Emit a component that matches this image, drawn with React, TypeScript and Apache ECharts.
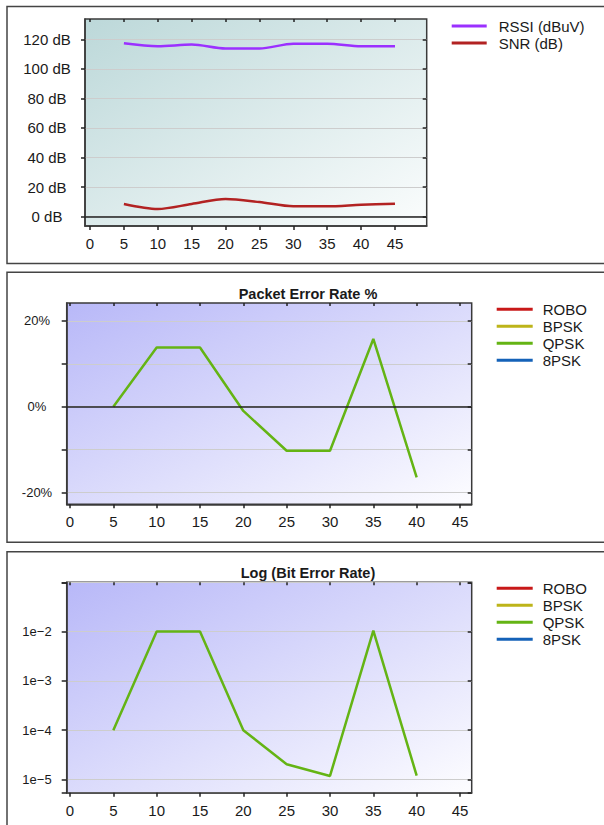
import React, { useEffect, useRef } from "react";
import * as echarts from "echarts";

// ---- data ----
const distance = [5, 10, 15, 20, 25, 30, 35, 40, 45];
const rssi = [117.3, 115.3, 116.4, 113.7, 113.7, 117, 117, 115.3, 115.3];
const snr = [8.6, 5.2, 8.6, 12, 9.9, 7, 7, 8.1, 8.8];

const errDistance = [5, 10, 15, 20, 25, 30, 35, 40];
const perRobo: number[] = [];
const perBpsk: number[] = [];
const perQpsk = [0, 13.8, 13.8, -1, -10.3, -10.3, 15.8, -16.5];
const per8psk: number[] = [];
const berRobo: number[] = [];
const berBpsk: number[] = [];
const berQpsk = [1e-4, 1e-2, 1e-2, 1e-4, 2.04e-5, 1.18e-5, 1.05e-2, 1.2e-5];
const ber8psk: number[] = [];

const xTicks = [0, 5, 10, 15, 20, 25, 30, 35, 40, 45];
const dbTicks = [0, 20, 40, 60, 80, 100, 120];
const perTicks = [-20, -10, 0, 10, 20];
const perLabels = [-20, 0, 20];

const modNames = ["ROBO", "BPSK", "QPSK", "8PSK"];
const modColors = ["#c81818", "#bdb41a", "#64b414", "#1462b8"];

const FONT = 'Arial, "Liberation Sans", sans-serif';
const TEXT = "#1a1a1a";
const AXIS = "#3a3a3a";

const zip = (xs: number[], ys: number[]) => ys.map((y, i) => [xs[i], y]);

function xBottom(gridIndex: number, min: number, max: number) {
  return {
    type: "value",
    gridIndex,
    position: "bottom",
    min,
    max,
    axisLine: { show: true, onZero: false, lineStyle: { color: AXIS, width: 1.5 } },
    axisTick: { show: true, length: 4, customValues: xTicks, lineStyle: { color: "#222", width: 1.5 } },
    axisLabel: { customValues: xTicks, margin: 10, fontSize: 15, color: TEXT, fontFamily: FONT },
    splitLine: { show: false },
  };
}
function xTop(gridIndex: number, min: number, max: number) {
  return {
    type: "value",
    gridIndex,
    position: "top",
    min,
    max,
    axisLine: { show: false, onZero: false },
    axisTick: { show: true, inside: true, length: 3, customValues: xTicks, lineStyle: { color: "#222", width: 1.5 } },
    axisLabel: { show: false },
    splitLine: { show: false },
  };
}

const bgTeal = {
  type: "linear", x: 0, y: 0, x2: 1, y2: 1,
  colorStops: [{ offset: 0, color: "#bcd8d9" }, { offset: 1, color: "#fbfdfd" }],
};
const bgBlue = {
  type: "linear", x: 0, y: 0, x2: 1, y2: 1,
  colorStops: [{ offset: 0, color: "#b8b8f8" }, { offset: 1, color: "#fdfdff" }],
};

const zeroLine = {
  silent: true,
  symbol: ["none", "none"],
  label: { show: false },
  lineStyle: { color: "#222", width: 1.5, type: "solid" },
  data: [{ yAxis: 0 }],
};

function legend(names: string[], left: number, top: number, itemWidth: number, pad: number) {
  return {
    data: names,
    orient: "vertical",
    left,
    top,
    padding: 0,
    icon: "rect",
    itemWidth,
    itemHeight: 3,
    itemGap: 0,
    selectedMode: false,
    textStyle: { fontSize: 15, lineHeight: 17, color: TEXT, fontFamily: FONT, padding: [0, 0, 0, pad] },
  };
}

export default function App() {
  const ref = useRef<HTMLDivElement>(null);
  useEffect(() => {
    if (!ref.current) return;
    const chart = echarts.init(ref.current, undefined, { renderer: "svg" });
    const perData = [perRobo, perBpsk, perQpsk, per8psk];
    const berData = [berRobo, berBpsk, berQpsk, ber8psk];
    const option: any = {
      animation: false,
      textStyle: { fontFamily: FONT },
      title: [
        {
          text: "Packet Error Rate %", left: 308, top: 286, textAlign: "center", padding: 0,
          textStyle: { fontSize: 14.5, fontWeight: "bold", color: TEXT, fontFamily: FONT },
        },
        {
          text: "Log (Bit Error Rate)", left: 308, top: 565, textAlign: "center", padding: 0,
          textStyle: { fontSize: 14.5, fontWeight: "bold", color: TEXT, fontFamily: FONT },
        },
      ],
      graphic: [
        { type: "rect", silent: true, shape: { x: 7, y: 6.5, width: 640, height: 257 }, style: { fill: "none", stroke: "#444", lineWidth: 1.5 } },
        { type: "rect", silent: true, shape: { x: 7, y: 272.3, width: 640, height: 270 }, style: { fill: "none", stroke: "#444", lineWidth: 1.5 } },
        { type: "rect", silent: true, shape: { x: 7, y: 551.7, width: 640, height: 300 }, style: { fill: "none", stroke: "#444", lineWidth: 1.5 } },
      ],
      legend: [
        legend(["RSSI (dBuV)", "SNR (dB)"], 451.7, 17.5, 35, 7),
        legend(modNames, 496.7, 300.8, 36, 5),
        legend(modNames, 496.7, 579.8, 36, 5),
      ],
      grid: [
        { left: 85, top: 19, width: 341.7, height: 207, show: true, backgroundColor: bgTeal, borderColor: AXIS, borderWidth: 1.5 },
        { left: 66.7, top: 303, width: 405, height: 201.3, show: true, backgroundColor: bgBlue, borderColor: AXIS, borderWidth: 1.5 },
        { left: 66.7, top: 582.3, width: 405, height: 210.4, show: true, backgroundColor: bgBlue, borderColor: AXIS, borderWidth: 1.5 },
      ],
      xAxis: [
        xBottom(0, -0.74, 49.68),
        xTop(0, -0.74, 49.68),
        xBottom(1, -0.38, 46.35),
        xTop(1, -0.38, 46.35),
        xBottom(2, -0.38, 46.35),
        xTop(2, -0.38, 46.35),
      ],
      yAxis: [
        {
          type: "value", gridIndex: 0, position: "left", min: -6.3, max: 133.7,
          axisLine: { show: true, onZero: false, lineStyle: { color: AXIS, width: 1.5 } },
          axisTick: { show: true, length: 4, customValues: dbTicks, lineStyle: { color: "#222", width: 1.5 } },
          axisLabel: { customValues: dbTicks, formatter: (v: number) => `${v} dB`, align: "center", margin: 38, fontSize: 15, color: TEXT, fontFamily: FONT },
          splitLine: { show: true, lineStyle: { color: "#cdcdcd", width: 1 } },
        },
        {
          type: "value", gridIndex: 0, position: "right", min: -6.3, max: 133.7,
          axisLine: { show: false, onZero: false },
          axisTick: { show: true, inside: true, length: 4, customValues: dbTicks, lineStyle: { color: "#222", width: 1.5 } },
          axisLabel: { show: false },
          splitLine: { show: false },
        },
        {
          type: "value", gridIndex: 1, position: "left", min: -22.8, max: 24.2,
          axisLine: { show: true, onZero: false, lineStyle: { color: AXIS, width: 1.5 } },
          axisTick: { show: true, length: 5, customValues: perTicks, lineStyle: { color: "#222", width: 1.5 } },
          axisLabel: { customValues: perLabels, formatter: (v: number) => `${v}%`, align: "center", margin: 29.7, fontSize: 13, color: TEXT, fontFamily: FONT },
          splitLine: { show: true, lineStyle: { color: "#cdcdcd", width: 1 } },
        },
        {
          type: "value", gridIndex: 1, position: "right", min: -22.8, max: 24.2,
          axisLine: { show: false, onZero: false },
          axisTick: { show: true, inside: true, length: 4, customValues: perTicks, lineStyle: { color: "#222", width: 1.5 } },
          axisLabel: { show: false },
          splitLine: { show: false },
        },
        {
          type: "log", logBase: 10, gridIndex: 2, position: "left", min: 5.4e-6, max: 0.1,
          axisLine: { show: true, onZero: false, lineStyle: { color: AXIS, width: 1.5 } },
          axisTick: { show: true, length: 5, lineStyle: { color: "#222", width: 1.5 } },
          axisLabel: {
            align: "center", margin: 29.7, fontSize: 13, color: TEXT, fontFamily: FONT,
            formatter: (v: number) => {
              const l = Math.log10(v);
              const e = Math.round(l);
              if (Math.abs(l - e) > 0.01 || e < -5 || e > -2) return "";
              return `1e\u2212${-e}`;
            },
          },
          splitLine: { show: true, lineStyle: { color: "#cdcdcd", width: 1 } },
        },
        {
          type: "log", logBase: 10, gridIndex: 2, position: "right", min: 5.4e-6, max: 0.1,
          axisLine: { show: false, onZero: false },
          axisTick: { show: true, inside: true, length: 4, lineStyle: { color: "#222", width: 1.5 } },
          axisLabel: { show: false },
          splitLine: { show: false },
        },
      ],
      series: [
        {
          name: "RSSI (dBuV)", type: "line", xAxisIndex: 0, yAxisIndex: 0, data: zip(distance, rssi),
          smooth: 0.3, showSymbol: false, symbol: "none", color: "#9b30ff", lineStyle: { color: "#9b30ff", width: 2.5 },
        },
        {
          name: "SNR (dB)", type: "line", xAxisIndex: 0, yAxisIndex: 0, data: zip(distance, snr),
          smooth: 0.3, showSymbol: false, symbol: "none", color: "#b22222", lineStyle: { color: "#b22222", width: 2.5 },
          markLine: zeroLine,
        },
        ...modNames.map((n, i) => ({
          name: n, type: "line", xAxisIndex: 2, yAxisIndex: 2, data: zip(errDistance, perData[i]),
          showSymbol: false, symbol: "none", color: modColors[i], lineStyle: { color: modColors[i], width: 2.5 },
          ...(i === 2 ? { markLine: zeroLine } : {}),
        })),
        ...modNames.map((n, i) => ({
          name: n, type: "line", xAxisIndex: 4, yAxisIndex: 4, data: zip(errDistance, berData[i]),
          showSymbol: false, symbol: "none", color: modColors[i], lineStyle: { color: modColors[i], width: 2.5 },
        })),
      ],
    };
    chart.setOption(option);
    return () => chart.dispose();
  }, []);
  return (
    <div
      ref={ref}
      style={{ position: "absolute", left: 0, top: 0, width: 604, height: 825, background: "#fff" }}
    />
  );
}
